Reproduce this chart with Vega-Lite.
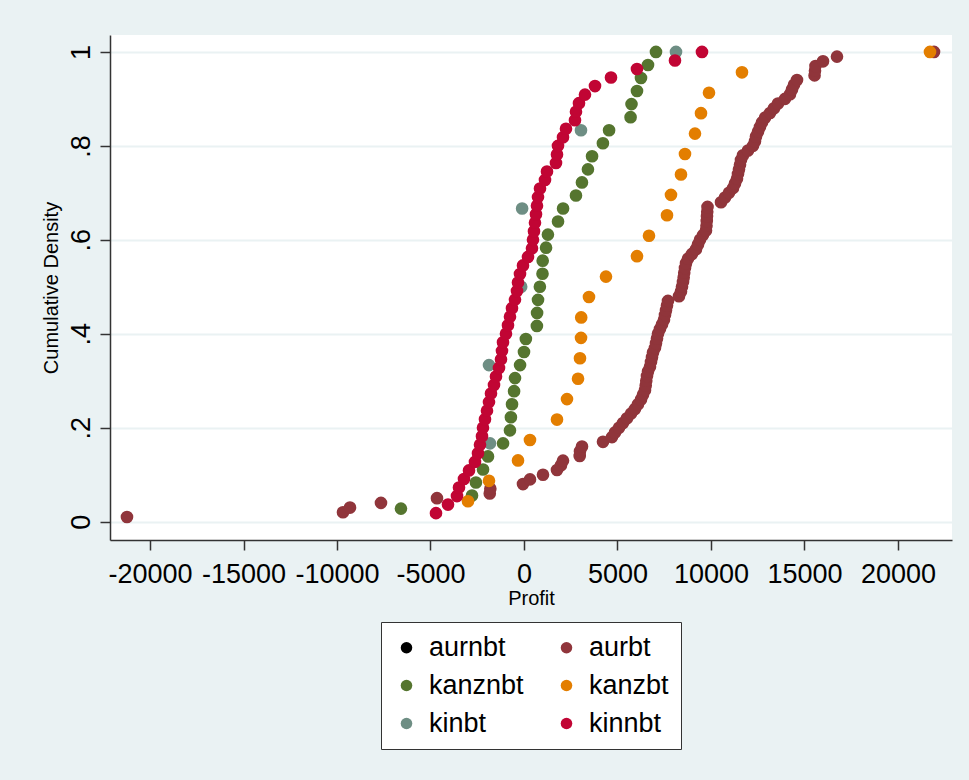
{
"$schema":"https://vega.github.io/schema/vega-lite/v6.json",
"width":842,"height":505,
"autosize":{"type":"none"},
"padding":{"left":110,"top":35,"right":17,"bottom":240},
"background":"#EAF2F3",
"config":{"font":"Liberation Sans","view":{"fill":"white","stroke":null}},
"data":{"values":[
{"g":"aurbt","x":-21232,"p":0.01},{"g":"aurbt","x":-9680,"p":0.02},{"g":"aurbt","x":-9306,"p":0.03},{"g":"aurbt","x":-7648,"p":0.04},{"g":"aurbt","x":-4653,"p":0.05},
{"g":"aurbt","x":-1830,"p":0.06},{"g":"aurbt","x":-1800,"p":0.07},{"g":"aurbt","x":-53,"p":0.08},{"g":"aurbt","x":321,"p":0.09},{"g":"aurbt","x":1016,"p":0.10},
{"g":"aurbt","x":1765,"p":0.11},{"g":"aurbt","x":1979,"p":0.12},{"g":"aurbt","x":2086,"p":0.13},{"g":"aurbt","x":2980,"p":0.14},{"g":"aurbt","x":2995,"p":0.15},
{"g":"aurbt","x":3102,"p":0.16},{"g":"aurbt","x":4225,"p":0.17},{"g":"aurbt","x":4706,"p":0.18},{"g":"aurbt","x":4867,"p":0.19},{"g":"aurbt","x":5081,"p":0.20},
{"g":"aurbt","x":5295,"p":0.21},{"g":"aurbt","x":5508,"p":0.22},{"g":"aurbt","x":5722,"p":0.23},{"g":"aurbt","x":5936,"p":0.24},{"g":"aurbt","x":6097,"p":0.25},
{"g":"aurbt","x":6257,"p":0.26},{"g":"aurbt","x":6364,"p":0.27},{"g":"aurbt","x":6471,"p":0.28},{"g":"aurbt","x":6510,"p":0.29},{"g":"aurbt","x":6540,"p":0.30},
{"g":"aurbt","x":6578,"p":0.31},{"g":"aurbt","x":6632,"p":0.32},{"g":"aurbt","x":6738,"p":0.33},{"g":"aurbt","x":6792,"p":0.34},{"g":"aurbt","x":6845,"p":0.35},
{"g":"aurbt","x":6899,"p":0.36},{"g":"aurbt","x":7006,"p":0.37},{"g":"aurbt","x":7059,"p":0.38},{"g":"aurbt","x":7113,"p":0.39},{"g":"aurbt","x":7166,"p":0.40},
{"g":"aurbt","x":7273,"p":0.41},{"g":"aurbt","x":7380,"p":0.42},{"g":"aurbt","x":7487,"p":0.43},{"g":"aurbt","x":7541,"p":0.44},{"g":"aurbt","x":7594,"p":0.45},
{"g":"aurbt","x":7648,"p":0.46},{"g":"aurbt","x":7701,"p":0.47},{"g":"aurbt","x":8289,"p":0.48},{"g":"aurbt","x":8396,"p":0.49},{"g":"aurbt","x":8450,"p":0.50},
{"g":"aurbt","x":8503,"p":0.51},{"g":"aurbt","x":8540,"p":0.52},{"g":"aurbt","x":8570,"p":0.53},{"g":"aurbt","x":8610,"p":0.54},{"g":"aurbt","x":8664,"p":0.55},
{"g":"aurbt","x":8771,"p":0.56},{"g":"aurbt","x":8985,"p":0.57},{"g":"aurbt","x":9199,"p":0.58},{"g":"aurbt","x":9306,"p":0.59},{"g":"aurbt","x":9412,"p":0.60},
{"g":"aurbt","x":9573,"p":0.61},{"g":"aurbt","x":9733,"p":0.62},{"g":"aurbt","x":9760,"p":0.63},{"g":"aurbt","x":9775,"p":0.64},{"g":"aurbt","x":9787,"p":0.65},
{"g":"aurbt","x":9800,"p":0.66},{"g":"aurbt","x":9815,"p":0.67},{"g":"aurbt","x":10536,"p":0.68},{"g":"aurbt","x":10749,"p":0.69},{"g":"aurbt","x":10963,"p":0.70},
{"g":"aurbt","x":11177,"p":0.71},{"g":"aurbt","x":11284,"p":0.72},{"g":"aurbt","x":11391,"p":0.73},{"g":"aurbt","x":11445,"p":0.74},{"g":"aurbt","x":11498,"p":0.75},
{"g":"aurbt","x":11552,"p":0.76},{"g":"aurbt","x":11605,"p":0.77},{"g":"aurbt","x":11712,"p":0.78},{"g":"aurbt","x":11979,"p":0.79},{"g":"aurbt","x":12247,"p":0.80},
{"g":"aurbt","x":12354,"p":0.81},{"g":"aurbt","x":12407,"p":0.82},{"g":"aurbt","x":12514,"p":0.83},{"g":"aurbt","x":12621,"p":0.84},{"g":"aurbt","x":12728,"p":0.85},
{"g":"aurbt","x":12889,"p":0.86},{"g":"aurbt","x":13156,"p":0.87},{"g":"aurbt","x":13370,"p":0.88},{"g":"aurbt","x":13584,"p":0.89},{"g":"aurbt","x":13958,"p":0.90},
{"g":"aurbt","x":14226,"p":0.91},{"g":"aurbt","x":14333,"p":0.92},{"g":"aurbt","x":14440,"p":0.93},{"g":"aurbt","x":14600,"p":0.94},{"g":"aurbt","x":15540,"p":0.95},
{"g":"aurbt","x":15563,"p":0.96},{"g":"aurbt","x":15590,"p":0.97},{"g":"aurbt","x":15991,"p":0.98},{"g":"aurbt","x":16739,"p":0.99},{"g":"aurbt","x":21927,"p":1.0},
{"g":"kanznbt","x":-6580,"p":0.0278},{"g":"kanznbt","x":-2780,"p":0.0556},{"g":"kanznbt","x":-2570,"p":0.0833},{"g":"kanznbt","x":-2190,"p":0.1111},
{"g":"kanznbt","x":-1925,"p":0.1389},{"g":"kanznbt","x":-1120,"p":0.1667},{"g":"kanznbt","x":-750,"p":0.1944},{"g":"kanznbt","x":-700,"p":0.2222},
{"g":"kanznbt","x":-640,"p":0.25},{"g":"kanznbt","x":-530,"p":0.2778},{"g":"kanznbt","x":-480,"p":0.3056},{"g":"kanznbt","x":-210,"p":0.3333},
{"g":"kanznbt","x":0,"p":0.3611},{"g":"kanznbt","x":100,"p":0.3889},{"g":"kanznbt","x":690,"p":0.4167},{"g":"kanznbt","x":700,"p":0.4444},
{"g":"kanznbt","x":750,"p":0.4722},{"g":"kanznbt","x":850,"p":0.5},{"g":"kanznbt","x":990,"p":0.5278},{"g":"kanznbt","x":1000,"p":0.5556},
{"g":"kanznbt","x":1180,"p":0.5833},{"g":"kanznbt","x":1280,"p":0.6111},{"g":"kanznbt","x":1820,"p":0.6389},{"g":"kanznbt","x":2090,"p":0.6667},
{"g":"kanznbt","x":2780,"p":0.6944},{"g":"kanznbt","x":3100,"p":0.7222},{"g":"kanznbt","x":3420,"p":0.75},{"g":"kanznbt","x":3640,"p":0.7778},
{"g":"kanznbt","x":4220,"p":0.8056},{"g":"kanznbt","x":4550,"p":0.8333},{"g":"kanznbt","x":5700,"p":0.8611},{"g":"kanznbt","x":5750,"p":0.8889},
{"g":"kanznbt","x":6043,"p":0.9167},{"g":"kanznbt","x":6257,"p":0.9444},{"g":"kanznbt","x":6632,"p":0.9722},{"g":"kanznbt","x":7059,"p":1.0},
{"g":"kanzbt","x":-2995,"p":0.0435},{"g":"kanzbt","x":-1872,"p":0.087},{"g":"kanzbt","x":-320,"p":0.1304},{"g":"kanzbt","x":320,"p":0.1739},
{"g":"kanzbt","x":1765,"p":0.2174},{"g":"kanzbt","x":2300,"p":0.2609},{"g":"kanzbt","x":2890,"p":0.3043},{"g":"kanzbt","x":2995,"p":0.3478},
{"g":"kanzbt","x":3050,"p":0.3913},{"g":"kanzbt","x":3060,"p":0.4348},{"g":"kanzbt","x":3476,"p":0.4783},{"g":"kanzbt","x":4385,"p":0.5217},
{"g":"kanzbt","x":6043,"p":0.5652},{"g":"kanzbt","x":6685,"p":0.6087},{"g":"kanzbt","x":7648,"p":0.6522},{"g":"kanzbt","x":7861,"p":0.6957},
{"g":"kanzbt","x":8396,"p":0.7391},{"g":"kanzbt","x":8610,"p":0.7826},{"g":"kanzbt","x":9145,"p":0.8261},{"g":"kanzbt","x":9466,"p":0.8696},
{"g":"kanzbt","x":9894,"p":0.913},{"g":"kanzbt","x":11658,"p":0.9565},{"g":"kanzbt","x":21713,"p":1.0},
{"g":"kinbt","x":-1818,"p":0.1667},{"g":"kinbt","x":-1872,"p":0.3333},{"g":"kinbt","x":-150,"p":0.5},{"g":"kinbt","x":-100,"p":0.6667},
{"g":"kinbt","x":3048,"p":0.8333},{"g":"kinbt","x":8129,"p":1.0},
{"g":"kinnbt","x":-4706,"p":0.0182},{"g":"kinnbt","x":-4064,"p":0.0364},{"g":"kinnbt","x":-3583,"p":0.0545},{"g":"kinnbt","x":-3476,"p":0.0727},
{"g":"kinnbt","x":-3209,"p":0.0909},{"g":"kinnbt","x":-2941,"p":0.1091},{"g":"kinnbt","x":-2621,"p":0.1273},{"g":"kinnbt","x":-2460,"p":0.1455},
{"g":"kinnbt","x":-2353,"p":0.1636},{"g":"kinnbt","x":-2246,"p":0.1818},{"g":"kinnbt","x":-2193,"p":0.2},{"g":"kinnbt","x":-2086,"p":0.2182},
{"g":"kinnbt","x":-1979,"p":0.2364},{"g":"kinnbt","x":-1872,"p":0.2545},{"g":"kinnbt","x":-1765,"p":0.2727},{"g":"kinnbt","x":-1604,"p":0.2909},
{"g":"kinnbt","x":-1497,"p":0.3091},{"g":"kinnbt","x":-1337,"p":0.3273},{"g":"kinnbt","x":-1230,"p":0.3455},{"g":"kinnbt","x":-1177,"p":0.3636},
{"g":"kinnbt","x":-1123,"p":0.3818},{"g":"kinnbt","x":-963,"p":0.4},{"g":"kinnbt","x":-856,"p":0.4182},{"g":"kinnbt","x":-749,"p":0.4364},
{"g":"kinnbt","x":-642,"p":0.4545},{"g":"kinnbt","x":-481,"p":0.4727},{"g":"kinnbt","x":-374,"p":0.4909},{"g":"kinnbt","x":-321,"p":0.5091},
{"g":"kinnbt","x":-214,"p":0.5273},{"g":"kinnbt","x":-53,"p":0.5455},{"g":"kinnbt","x":214,"p":0.5636},{"g":"kinnbt","x":428,"p":0.5818},
{"g":"kinnbt","x":481,"p":0.6},{"g":"kinnbt","x":535,"p":0.6182},{"g":"kinnbt","x":588,"p":0.6364},{"g":"kinnbt","x":642,"p":0.6545},
{"g":"kinnbt","x":695,"p":0.6727},{"g":"kinnbt","x":749,"p":0.6909},{"g":"kinnbt","x":856,"p":0.7091},{"g":"kinnbt","x":1123,"p":0.7273},
{"g":"kinnbt","x":1230,"p":0.7455},{"g":"kinnbt","x":1711,"p":0.7636},{"g":"kinnbt","x":1765,"p":0.7818},{"g":"kinnbt","x":1818,"p":0.8},
{"g":"kinnbt","x":2086,"p":0.8182},{"g":"kinnbt","x":2246,"p":0.8364},{"g":"kinnbt","x":2727,"p":0.8545},{"g":"kinnbt","x":2781,"p":0.8727},
{"g":"kinnbt","x":2941,"p":0.8909},{"g":"kinnbt","x":3262,"p":0.9091},{"g":"kinnbt","x":3797,"p":0.9273},{"g":"kinnbt","x":4653,"p":0.9455},
{"g":"kinnbt","x":6043,"p":0.9636},{"g":"kinnbt","x":8075,"p":0.9818},{"g":"kinnbt","x":9519,"p":1.0}
]},
"mark":{"type":"point","filled":true,"size":160,"opacity":1,"shape":"circle"},
"encoding":{
"x":{"field":"x","type":"quantitative","title":"Profit",
"scale":{"domain":[-22140,22890],"nice":false,"zero":false},
"axis":{"values":[-20000,-15000,-10000,-5000,0,5000,10000,15000,20000],"labelExpr":"'' + datum.value","grid":false,
"domainColor":"#333333","domainWidth":1.5,"tickColor":"#333333","tickWidth":1.5,"tickSize":10,
"labelFontSize":27,"labelColor":"#000000","labelBaseline":"alphabetic","labelPadding":32,"labelFlush":false,"labelOverlap":false,
"titleFontSize":20,"titleFontWeight":"normal","titleColor":"#000000","titleBaseline":"alphabetic","titleY":64,"titleX":421}},
"y":{"field":"p","type":"quantitative","title":"Cumulative Density",
"scale":{"domain":[-0.039,1.036],"nice":false,"zero":false},
"axis":{"values":[0,0.2,0.4,0.6,0.8,1],"labelExpr":"datum.value == 0 ? '0' : datum.value == 1 ? '1' : replace(format(datum.value, '.1f'), '0.', '.')",
"grid":true,"gridColor":"#EAF2F3","gridWidth":2,
"domainColor":"#333333","domainWidth":1.5,"tickColor":"#333333","tickWidth":1.5,"tickSize":10,
"labelFontSize":27,"labelColor":"#000000","labelAngle":-90,"labelAlign":"center","labelBaseline":"alphabetic","labelPadding":11,"labelFlush":false,"labelOverlap":false,
"titleFontSize":20,"titleFontWeight":"normal","titleColor":"#000000","titleAngle":-90,"titleAlign":"center","titleBaseline":"alphabetic","titleX":-53,"titleY":252.5}},
"color":{"field":"g","type":"nominal",
"scale":{"domain":["aurnbt","aurbt","kanznbt","kanzbt","kinbt","kinnbt"],"range":["#000000","#90353B","#55752F","#E37E00","#6E8E84","#C10534"]},
"legend":{"title":null,"orient":"none","legendX":271,"legendY":587,"columns":2,"direction":"horizontal",
"symbolType":"circle","symbolSize":133,"symbolStrokeWidth":0,"labelFontSize":27,"labelColor":"#000000","labelOffset":9,
"columnPadding":29,"rowPadding":10,"padding":12,"fillColor":"white","strokeColor":"#333333","labelLimit":300}}
}
}
